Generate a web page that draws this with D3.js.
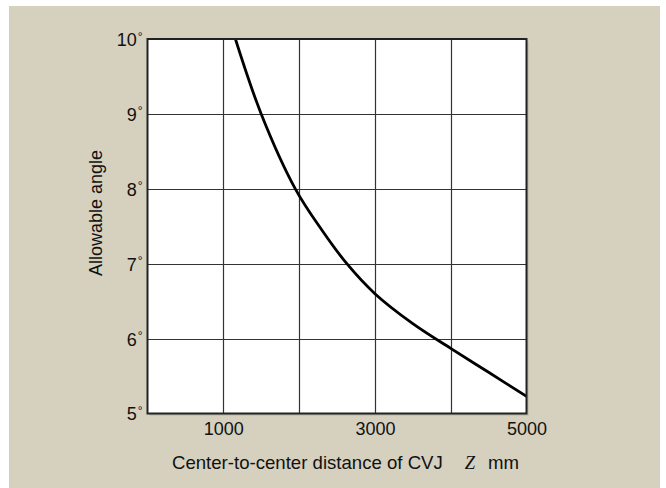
<!DOCTYPE html>
<html>
<head>
<meta charset="utf-8">
<script src="https://cdn.jsdelivr.net/npm/d3@7"></script>
<style>
html,body{margin:0;padding:0;background:#fff;}
svg{display:block;}
</style>
</head>
<body>
<svg id="chart" width="666" height="488"></svg>
<script>
// Data
const distance = [1160, 1500, 1950, 2300, 2630, 3000, 3500, 4000, 4500, 5000]; // mm
const angle    = [10.0, 9.0, 8.0, 7.45, 7.0, 6.6, 6.2, 5.87, 5.55, 5.23];       // degrees
const xGridValues = [1000, 2000, 3000, 4000];
const xTickLabels = [1000, 3000, 5000];
const yTickLabels = [5, 6, 7, 8, 9, 10];
const xTitle = "Center-to-center distance of CVJ";
const yTitle = "Allowable angle";

const svg = d3.select("#chart");
const W = 666, H = 488;
const margin = {left: 147.5, top: 39, right: 666 - 526.5, bottom: 488 - 413.5};

svg.append("rect").attr("x", 9).attr("y", 6).attr("width", 651).attr("height", 482).attr("fill", "#d6d0bf");

const x = d3.scaleLinear().domain([0, 5000]).range([margin.left, W - margin.right]);
const y = d3.scaleLinear().domain([5, 10]).range([H - margin.bottom, margin.top]);

// plot background (with faint shadow)
svg.append("rect").attr("x", x(0) + 2).attr("y", y(10) + 2)
  .attr("width", x(5000) - x(0)).attr("height", y(5) - y(10)).attr("fill", "#b9b4a5");
svg.append("rect").attr("x", x(0)).attr("y", y(10))
  .attr("width", x(5000) - x(0)).attr("height", y(5) - y(10)).attr("fill", "#fff");

const font = "Liberation Sans, Arial, Helvetica, sans-serif";

// grid
const grid = svg.append("g").attr("stroke", "#333").attr("stroke-width", 1.2);
grid.selectAll("line.v").data(xGridValues).enter().append("line")
  .attr("x1", d => Math.round(x(d)) + 0.5).attr("x2", d => Math.round(x(d)) + 0.5)
  .attr("y1", y(10)).attr("y2", y(5));
grid.selectAll("line.h").data(yTickLabels.filter(d => d > 5 && d < 10)).enter().append("line")
  .attr("y1", d => Math.round(y(d)) + 0.5).attr("y2", d => Math.round(y(d)) + 0.5)
  .attr("x1", x(0)).attr("x2", x(5000));

// curve
svg.append("clipPath").attr("id", "clip").append("rect")
  .attr("x", x(0)).attr("y", y(10)).attr("width", x(5000) - x(0)).attr("height", y(5) - y(10));
const pts = distance.map((d, i) => [d, angle[i]]);
svg.append("path").datum(pts)
  .attr("clip-path", "url(#clip)")
  .attr("fill", "none").attr("stroke", "#000").attr("stroke-width", 2.8)
  .attr("d", d3.line().x(d => x(d[0])).y(d => y(d[1])).curve(d3.curveCatmullRom.alpha(0.5)));

// frame
svg.append("rect").attr("x", x(0)).attr("y", y(10))
  .attr("width", x(5000) - x(0)).attr("height", y(5) - y(10))
  .attr("fill", "none").attr("stroke", "#222").attr("stroke-width", 2);

// axes (D3 axis generators, domain/ticks hidden; labels only)
const xAxis = d3.axisBottom(x).tickValues(xTickLabels).tickSize(0).tickPadding(9).tickFormat(d3.format("d"));
const gx = svg.append("g").attr("transform", `translate(0,${y(5)})`).call(xAxis);
gx.select(".domain").remove();
gx.selectAll("text").attr("font-family", font).attr("font-size", 18).attr("fill", "#111");

const yAxis = d3.axisLeft(y).tickValues(yTickLabels).tickSize(0).tickPadding(10).tickFormat(() => "");
const gy = svg.append("g").attr("transform", `translate(${x(0)},0)`).call(yAxis);
gy.select(".domain").remove();
gy.selectAll(".tick text").each(function(d) {
  const t = d3.select(this);
  t.attr("font-family", font).attr("font-size", 18).attr("fill", "#111").attr("dy", "0.36em").attr("x", -5);
  t.append("tspan").text(d);
  t.append("tspan").text("°").attr("font-size", 12).attr("dy", "-0.45em").attr("dx", 1);
});

// axis titles
const xt = svg.append("text").attr("x", 172).attr("y", 469).attr("text-anchor", "start")
  .attr("font-family", font).attr("font-size", 18.6).attr("fill", "#111");
xt.append("tspan").text(xTitle);
xt.append("tspan").attr("dx", 22).attr("font-family", "Liberation Serif, Times New Roman, serif").attr("font-style", "italic").attr("font-size", 18.6).text("Z");
xt.append("tspan").attr("dx", 13).text("mm");

svg.append("text").attr("transform", `translate(102,213) rotate(-90)`)
  .attr("text-anchor", "middle").attr("font-family", font).attr("font-size", 18).attr("fill", "#111")
  .text(yTitle);
</script>
</body>
</html>
